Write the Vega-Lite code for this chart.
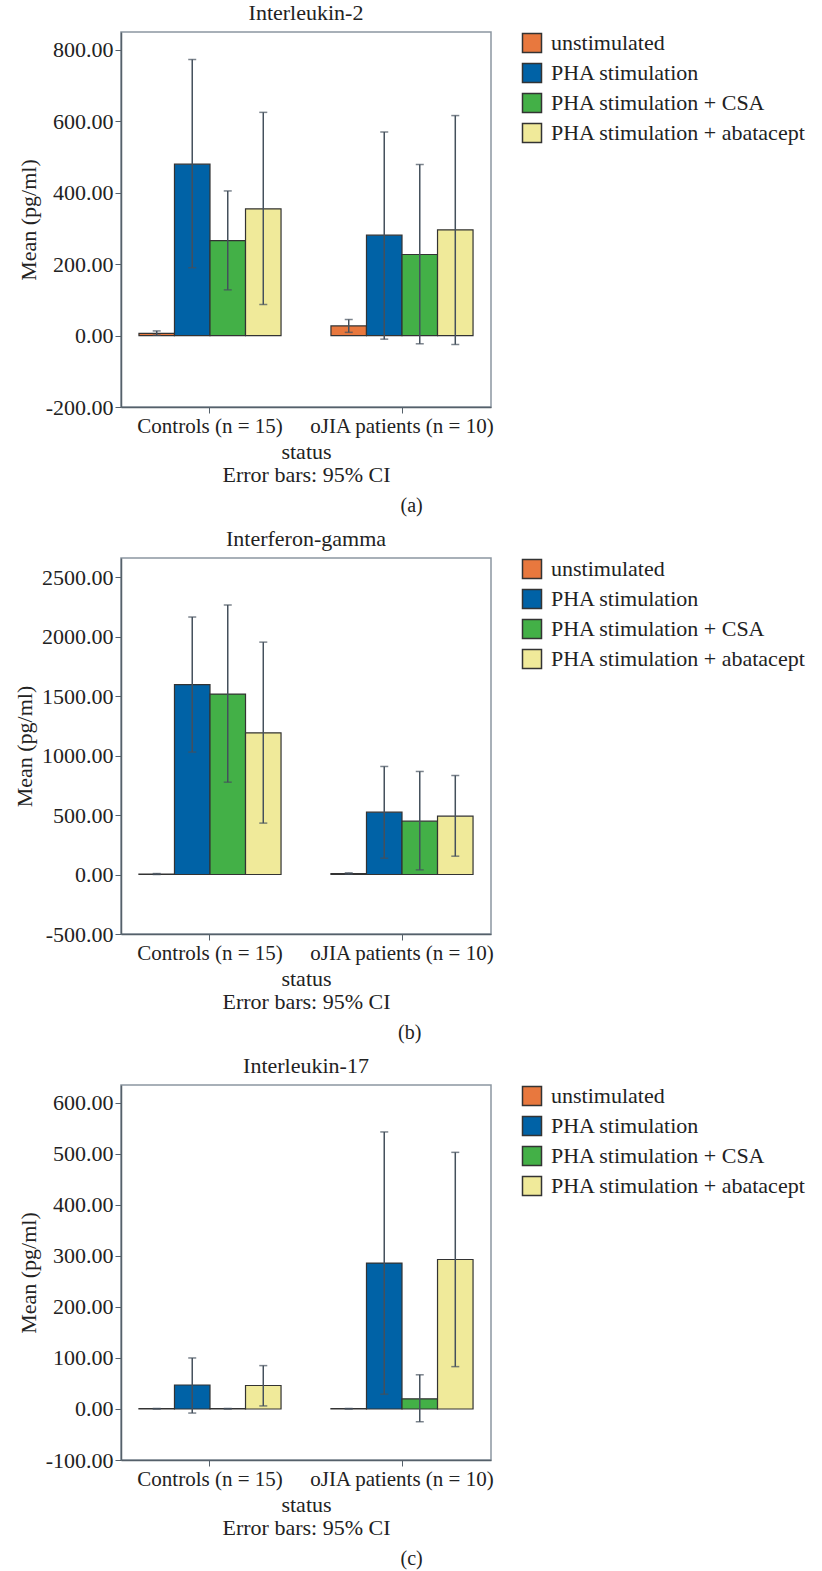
{
  "$schema": "https://vega.github.io/schema/vega-lite/v6.json",
  "padding": {"left": 12, "top": 1, "right": 2, "bottom": 2},
  "background": "white",
  "config": {
    "font": "Liberation Serif",
    "view": {"stroke": "#8c97a1", "strokeWidth": 1.5},
    "style": {"guide-label": {"font": "Liberation Serif"}, "guide-title": {"font": "Liberation Serif"}},
    "axis": {"labelFont": "Liberation Serif", "labelFontSize": 21, "labelColor": "#222222", "titleFont": "Liberation Serif", "titleFontSize": 22, "titleFontWeight": "normal", "titleColor": "#222222", "domainColor": "#55606a", "tickColor": "#55606a", "domainWidth": 1.5, "grid": false, "tickSize": 6, "labelPadding": 2, "labelLimit": 400},
    "legend": {"labelFont": "Liberation Serif"},
    "title": {"font": "Liberation Serif", "fontSize": 22, "fontWeight": "normal", "color": "#222222"},
    "concat": {"spacing": 11}
  },
  "datasets": {
    "il2": [
      {"status": "Controls (n = 15)", "series": "unstimulated", "mean": 6, "lo": 1, "hi": 13},
      {"status": "Controls (n = 15)", "series": "PHA stimulation", "mean": 480, "lo": 190, "hi": 773},
      {"status": "Controls (n = 15)", "series": "PHA stimulation + CSA", "mean": 266, "lo": 128, "hi": 405},
      {"status": "Controls (n = 15)", "series": "PHA stimulation + abatacept", "mean": 355, "lo": 87, "hi": 625},
      {"status": "oJIA patients (n = 10)", "series": "unstimulated", "mean": 27, "lo": 9, "hi": 45},
      {"status": "oJIA patients (n = 10)", "series": "PHA stimulation", "mean": 281, "lo": -10, "hi": 570},
      {"status": "oJIA patients (n = 10)", "series": "PHA stimulation + CSA", "mean": 227, "lo": -23, "hi": 479},
      {"status": "oJIA patients (n = 10)", "series": "PHA stimulation + abatacept", "mean": 296, "lo": -25, "hi": 616}
    ],
    "ifn": [
      {"status": "Controls (n = 15)", "series": "unstimulated", "mean": 3, "lo": 0, "hi": 8},
      {"status": "Controls (n = 15)", "series": "PHA stimulation", "mean": 1595, "lo": 1029, "hi": 2164},
      {"status": "Controls (n = 15)", "series": "PHA stimulation + CSA", "mean": 1516, "lo": 776, "hi": 2265},
      {"status": "Controls (n = 15)", "series": "PHA stimulation + abatacept", "mean": 1191, "lo": 432, "hi": 1953},
      {"status": "oJIA patients (n = 10)", "series": "unstimulated", "mean": 8, "lo": 3, "hi": 14},
      {"status": "oJIA patients (n = 10)", "series": "PHA stimulation", "mean": 524, "lo": 137, "hi": 908},
      {"status": "oJIA patients (n = 10)", "series": "PHA stimulation + CSA", "mean": 448, "lo": 39, "hi": 866},
      {"status": "oJIA patients (n = 10)", "series": "PHA stimulation + abatacept", "mean": 490, "lo": 154, "hi": 832}
    ],
    "il17": [
      {"status": "Controls (n = 15)", "series": "unstimulated", "mean": 0.5, "lo": 0, "hi": 1},
      {"status": "Controls (n = 15)", "series": "PHA stimulation", "mean": 47, "lo": -8, "hi": 100},
      {"status": "Controls (n = 15)", "series": "PHA stimulation + CSA", "mean": 0.5, "lo": 0, "hi": 1},
      {"status": "Controls (n = 15)", "series": "PHA stimulation + abatacept", "mean": 46, "lo": 6, "hi": 85},
      {"status": "oJIA patients (n = 10)", "series": "unstimulated", "mean": 0.5, "lo": 0, "hi": 1},
      {"status": "oJIA patients (n = 10)", "series": "PHA stimulation", "mean": 286, "lo": 29, "hi": 543},
      {"status": "oJIA patients (n = 10)", "series": "PHA stimulation + CSA", "mean": 20, "lo": -25, "hi": 67},
      {"status": "oJIA patients (n = 10)", "series": "PHA stimulation + abatacept", "mean": 293, "lo": 83, "hi": 503}
    ]
  },
  "resolve": {"scale": {"color": "independent"}},
  "vconcat": [
    {
      "title": {"text": "(a)", "orient": "bottom", "anchor": "middle", "offset": 10, "fontSize": 20},
      "resolve": {"scale": {"color": "independent"}},
      "vconcat": [
        {
          "width": 370, "height": 375,
          "title": {"text": "Interleukin-2", "offset": 7, "frame": "group"},
          "data": {"name": "il2"},
          "encoding": {
            "x": {"field": "status", "type": "nominal", "sort": ["Controls (n = 15)", "oJIA patients (n = 10)"], "scale": {"paddingInner": 0.26, "paddingOuter": 0.0935}, "axis": {"labelAngle": 0, "labelFont": "Liberation Serif", "labelLimit": 400, "title": ["status", "Error bars: 95% CI"], "titleLineHeight": 23, "titlePadding": 5}},
            "xOffset": {"field": "series", "type": "nominal", "sort": ["unstimulated", "PHA stimulation", "PHA stimulation + CSA", "PHA stimulation + abatacept"], "scale": {"padding": 0}}
          },
          "layer": [
            {"mark": {"type": "bar", "stroke": "#333333", "strokeWidth": 1.2},
             "encoding": {
               "y": {"field": "mean", "type": "quantitative", "scale": {"domain": [-200, 850], "nice": false, "zero": false}, "axis": {"values": [-200, 0, 200, 400, 600, 800], "labelFont": "Liberation Serif", "labelFontSize": 22, "labelExpr": "replace(format(datum.value, '.2f'), '\u2212', '-')", "title": "Mean (pg/ml)", "titlePadding": 5}},
               "color": {"field": "series", "type": "nominal", "scale": {"domain": ["unstimulated", "PHA stimulation", "PHA stimulation + CSA", "PHA stimulation + abatacept"], "range": ["#e8783e", "#0062a6", "#43b047", "#f0ea9a"]},
                 "legend": {"title": null, "orient": "right", "offset": 30, "padding": 0, "symbolType": "square", "symbolSize": 361, "symbolStrokeColor": "#333333", "symbolStrokeWidth": 1.5, "symbolOpacity": 1, "labelFont": "Liberation Serif", "labelFontSize": 22, "labelColor": "#222222", "labelOffset": 8, "rowPadding": 4, "labelLimit": 400}}
             }},
            {"mark": {"type": "rule", "color": "#44505c", "strokeWidth": 1.5},
             "encoding": {"y": {"field": "lo", "type": "quantitative", "axis": {"title": "Mean (pg/ml)"}}, "y2": {"field": "hi"}}},
            {"mark": {"type": "tick", "color": "#44505c", "thickness": 1.5, "size": 8},
             "encoding": {"y": {"field": "lo", "type": "quantitative", "axis": {"title": "Mean (pg/ml)"}}}},
            {"mark": {"type": "tick", "color": "#44505c", "thickness": 1.5, "size": 8},
             "encoding": {"y": {"field": "hi", "type": "quantitative", "axis": {"title": "Mean (pg/ml)"}}}}
          ]
        }
      ]
    },
    {
      "title": {"text": "(b)", "orient": "bottom", "anchor": "middle", "offset": 10, "fontSize": 20},
      "resolve": {"scale": {"color": "independent"}},
      "vconcat": [
        {
          "width": 370, "height": 376,
          "title": {"text": "Interferon-gamma", "offset": 7, "frame": "group"},
          "data": {"name": "ifn"},
          "encoding": {
            "x": {"field": "status", "type": "nominal", "sort": ["Controls (n = 15)", "oJIA patients (n = 10)"], "scale": {"paddingInner": 0.26, "paddingOuter": 0.0935}, "axis": {"labelAngle": 0, "labelFont": "Liberation Serif", "labelLimit": 400, "title": ["status", "Error bars: 95% CI"], "titleLineHeight": 23, "titlePadding": 5}},
            "xOffset": {"field": "series", "type": "nominal", "sort": ["unstimulated", "PHA stimulation", "PHA stimulation + CSA", "PHA stimulation + abatacept"], "scale": {"padding": 0}}
          },
          "layer": [
            {"mark": {"type": "bar", "stroke": "#333333", "strokeWidth": 1.2},
             "encoding": {
               "y": {"field": "mean", "type": "quantitative", "scale": {"domain": [-500, 2660], "nice": false, "zero": false}, "axis": {"values": [-500, 0, 500, 1000, 1500, 2000, 2500], "labelFont": "Liberation Serif", "labelFontSize": 22, "labelExpr": "replace(format(datum.value, '.2f'), '\u2212', '-')", "title": "Mean (pg/ml)", "titlePadding": 5}},
               "color": {"field": "series", "type": "nominal", "scale": {"domain": ["unstimulated", "PHA stimulation", "PHA stimulation + CSA", "PHA stimulation + abatacept"], "range": ["#e8783e", "#0062a6", "#43b047", "#f0ea9a"]},
                 "legend": {"title": null, "orient": "right", "offset": 30, "padding": 0, "symbolType": "square", "symbolSize": 361, "symbolStrokeColor": "#333333", "symbolStrokeWidth": 1.5, "symbolOpacity": 1, "labelFont": "Liberation Serif", "labelFontSize": 22, "labelColor": "#222222", "labelOffset": 8, "rowPadding": 4, "labelLimit": 400}}
             }},
            {"mark": {"type": "rule", "color": "#44505c", "strokeWidth": 1.5},
             "encoding": {"y": {"field": "lo", "type": "quantitative", "axis": {"title": "Mean (pg/ml)"}}, "y2": {"field": "hi"}}},
            {"mark": {"type": "tick", "color": "#44505c", "thickness": 1.5, "size": 8},
             "encoding": {"y": {"field": "lo", "type": "quantitative", "axis": {"title": "Mean (pg/ml)"}}}},
            {"mark": {"type": "tick", "color": "#44505c", "thickness": 1.5, "size": 8},
             "encoding": {"y": {"field": "hi", "type": "quantitative", "axis": {"title": "Mean (pg/ml)"}}}}
          ]
        }
      ]
    },
    {
      "title": {"text": "(c)", "orient": "bottom", "anchor": "middle", "offset": 10, "fontSize": 20},
      "resolve": {"scale": {"color": "independent"}},
      "vconcat": [
        {
          "width": 370, "height": 375,
          "title": {"text": "Interleukin-17", "offset": 7, "frame": "group"},
          "data": {"name": "il17"},
          "encoding": {
            "x": {"field": "status", "type": "nominal", "sort": ["Controls (n = 15)", "oJIA patients (n = 10)"], "scale": {"paddingInner": 0.26, "paddingOuter": 0.0935}, "axis": {"labelAngle": 0, "labelFont": "Liberation Serif", "labelLimit": 400, "title": ["status", "Error bars: 95% CI"], "titleLineHeight": 23, "titlePadding": 5}},
            "xOffset": {"field": "series", "type": "nominal", "sort": ["unstimulated", "PHA stimulation", "PHA stimulation + CSA", "PHA stimulation + abatacept"], "scale": {"padding": 0}}
          },
          "layer": [
            {"mark": {"type": "bar", "stroke": "#333333", "strokeWidth": 1.2},
             "encoding": {
               "y": {"field": "mean", "type": "quantitative", "scale": {"domain": [-100, 635], "nice": false, "zero": false}, "axis": {"values": [-100, 0, 100, 200, 300, 400, 500, 600], "labelFont": "Liberation Serif", "labelFontSize": 22, "labelExpr": "replace(format(datum.value, '.2f'), '\u2212', '-')", "title": "Mean (pg/ml)", "titlePadding": 5}},
               "color": {"field": "series", "type": "nominal", "scale": {"domain": ["unstimulated", "PHA stimulation", "PHA stimulation + CSA", "PHA stimulation + abatacept"], "range": ["#e8783e", "#0062a6", "#43b047", "#f0ea9a"]},
                 "legend": {"title": null, "orient": "right", "offset": 30, "padding": 0, "symbolType": "square", "symbolSize": 361, "symbolStrokeColor": "#333333", "symbolStrokeWidth": 1.5, "symbolOpacity": 1, "labelFont": "Liberation Serif", "labelFontSize": 22, "labelColor": "#222222", "labelOffset": 8, "rowPadding": 4, "labelLimit": 400}}
             }},
            {"mark": {"type": "rule", "color": "#44505c", "strokeWidth": 1.5},
             "encoding": {"y": {"field": "lo", "type": "quantitative", "axis": {"title": "Mean (pg/ml)"}}, "y2": {"field": "hi"}}},
            {"mark": {"type": "tick", "color": "#44505c", "thickness": 1.5, "size": 8},
             "encoding": {"y": {"field": "lo", "type": "quantitative", "axis": {"title": "Mean (pg/ml)"}}}},
            {"mark": {"type": "tick", "color": "#44505c", "thickness": 1.5, "size": 8},
             "encoding": {"y": {"field": "hi", "type": "quantitative", "axis": {"title": "Mean (pg/ml)"}}}}
          ]
        }
      ]
    }
  ]
}
